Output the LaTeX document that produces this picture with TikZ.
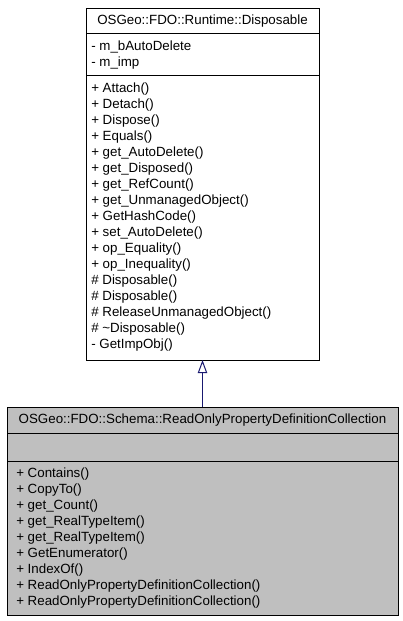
\documentclass[tikz,border=0pt]{standalone}
\usepackage{fontspec}
\setmainfont{Liberation Sans}
\usetikzlibrary{arrows.meta}
\definecolor{edgeblue}{HTML}{191970}
\definecolor{boxgray}{HTML}{BFBFBF}
\begin{document}
\begin{tikzpicture}[x=0.75pt,y=-0.75pt,
  classbox/.style={draw=black,line width=0.75pt,anchor=north west,inner sep=0pt,outer sep=0pt},
  member/.style={anchor=west,inner sep=0pt,font=\fontsize{10}{12}\selectfont},
  titletext/.style={anchor=center,inner sep=0pt,font=\fontsize{10}{12}\selectfont},
  sepline/.style={draw=black,line width=0.75pt},
  inherit/.style={draw=edgeblue,line width=0.75pt,-{Triangle[open,length=9.75pt,width=7pt,fill=white]}}]
\useasboundingbox (0,0) rectangle (403,621);
% top class
\node[classbox,fill=white,minimum width=174.75pt,minimum height=264pt] (base) at (86,8) {};
\node[titletext] (basetitle) at (202.5,21.5) {OSGeo::FDO::Runtime::Disposable};
\draw[sepline] (86,33) coordinate (bs1a) -- (319,33) coordinate (bs1b);
\draw[sepline] (86,75) coordinate (bs2a) -- (319,75) coordinate (bs2b);
\foreach \t [count=\i] in {- m\_bAutoDelete, - m\_imp}
  \node[member] (ba\i) at (91,{47+16*(\i-1)}) {\t};
\foreach \t [count=\i] in {+ Attach(), + Detach(), + Dispose(), + Equals(), + get\_AutoDelete(), + get\_Disposed(), + get\_RefCount(), + get\_UnmanagedObject(), + GetHashCode(), + set\_AutoDelete(), + op\_Equality(), + op\_Inequality(), \# Disposable(), \# Disposable(), \# ReleaseUnmanagedObject(), \# \textasciitilde Disposable(), - GetImpObj()}
  \node[member] (bm\i) at (91,{89+16*(\i-1)}) {\t};
% bottom class
\node[classbox,fill=boxgray,minimum width=293.25pt,minimum height=156pt] (derived) at (7,407) {};
\node[titletext] (derivedtitle) at (202.5,420.5) {OSGeo::FDO::Schema::ReadOnlyPropertyDefinitionCollection};
\draw[sepline] (7,433) coordinate (ds1a) -- (398,433) coordinate (ds1b);
\draw[sepline] (7,461) coordinate (ds2a) -- (398,461) coordinate (ds2b);
\foreach \t [count=\i] in {+ Contains(), + CopyTo(), + get\_Count(), + get\_RealTypeItem(), + get\_RealTypeItem(), + GetEnumerator(), + IndexOf(), + ReadOnlyPropertyDefinitionCollection(), + ReadOnlyPropertyDefinitionCollection()}
  \node[member] (dm\i) at (16,{474+16*(\i-1)}) {\t};
% inheritance
\draw[inherit] (derived.north) -- (base.south);
\end{tikzpicture}
\end{document}
